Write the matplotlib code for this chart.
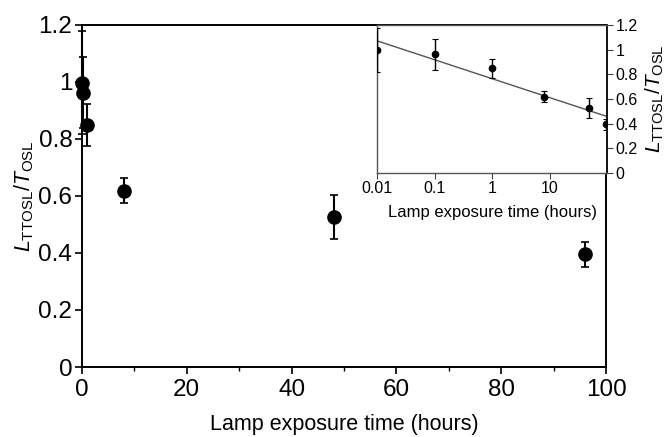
import numpy as np
import matplotlib
matplotlib.use("Agg")
import matplotlib.pyplot as plt
from matplotlib.ticker import MultipleLocator, FixedLocator, FuncFormatter

plt.rcParams['font.family'] = ['Liberation Sans', 'DejaVu Sans']
plt.rcParams['mathtext.fontset'] = 'custom'
plt.rcParams['mathtext.rm'] = 'Liberation Sans'
plt.rcParams['mathtext.it'] = 'Liberation Sans:italic'

# Data
exposure_hours = [0.01, 0.1, 1, 8, 48, 96]
ratio = [0.998, 0.962, 0.849, 0.619, 0.527, 0.395]
ratio_err = [0.18, 0.125, 0.075, 0.043, 0.078, 0.045]

main_xticks = [0, 20, 40, 60, 80, 100]
yticks = [0, 0.2, 0.4, 0.6, 0.8, 1.0, 1.2]
inset_xticks = [0.01, 0.1, 1, 10]
inset_xticklabels = ['0.01', '0.1', '1', '10']

ylabel = r'$\mathit{L}_{\rm TTOSL}/\mathit{T}_{\rm OSL}$'
xlabel = 'Lamp exposure time (hours)'

def yfmt(v, pos):
    s = f'{v:.1f}'
    if s.endswith('.0'):
        s = s[:-2]
    return s

fig = plt.figure(figsize=(6.72, 4.37), dpi=100)
ax = fig.add_axes([82/672, 1-367/437, (606-82)/672, (367-25)/437])

ax.errorbar(exposure_hours, ratio, yerr=ratio_err, fmt='o', color='black',
            markersize=9.5, elinewidth=1.5, capsize=3, capthick=1.2, clip_on=False, zorder=3)
ax.set_xlim(0, 100)
ax.set_ylim(0, 1.2)
ax.xaxis.set_major_locator(FixedLocator(main_xticks))
ax.xaxis.set_minor_locator(MultipleLocator(10))
ax.yaxis.set_major_locator(FixedLocator(yticks))
ax.yaxis.set_major_formatter(FuncFormatter(yfmt))
ax.tick_params(axis='both', which='major', direction='out', length=5, width=1.2,
               labelsize=17.5, pad=2)
ax.tick_params(axis='x', which='major', pad=4)
ax.tick_params(axis='x', which='minor', direction='out', length=3, width=1)
for s in ax.spines.values():
    s.set_linewidth(1.4)
ax.set_xlabel(xlabel, fontsize=15.5, labelpad=9)
ax.set_ylabel(ylabel, fontsize=15.5, labelpad=2)

# Inset
ia = fig.add_axes([377/672, 1-173/437, (607-377)/672, (173-25)/437])
ia.set_xscale('log')
ia.errorbar(exposure_hours, ratio, yerr=ratio_err, fmt='o', color='black',
            markersize=4.5, elinewidth=1, capsize=2, capthick=0.8, zorder=3)
logx = np.log10(exposure_hours)
b, a = np.polyfit(logx, ratio, 1)
xf = np.logspace(-2, 2, 50)
ia.plot(xf, a + b*np.log10(xf), color='#555555', lw=1, zorder=2)
ia.set_xlim(0.01, 100)
ia.set_ylim(0, 1.2)
ia.xaxis.set_major_locator(FixedLocator(inset_xticks))
ia.set_xticklabels(inset_xticklabels)
ia.xaxis.set_minor_locator(FixedLocator([]))
ia.yaxis.tick_right()
ia.yaxis.set_label_position('right')
ia.yaxis.set_major_locator(FixedLocator(yticks))
ia.yaxis.set_major_formatter(FuncFormatter(yfmt))
ia.tick_params(axis='both', which='major', direction='out', length=4, width=0.8,
               labelsize=11.5, pad=2, color='#444444')
for s in ia.spines.values():
    s.set_linewidth(1)
    s.set_color('#555555')
ia.spines['right'].set_color('black')
ia.spines['right'].set_linewidth(1.3)
ia.set_xlabel(xlabel, fontsize=12, labelpad=6)
ia.set_ylabel(ylabel, fontsize=15, labelpad=4)

fig.savefig('out.png', dpi=100)
